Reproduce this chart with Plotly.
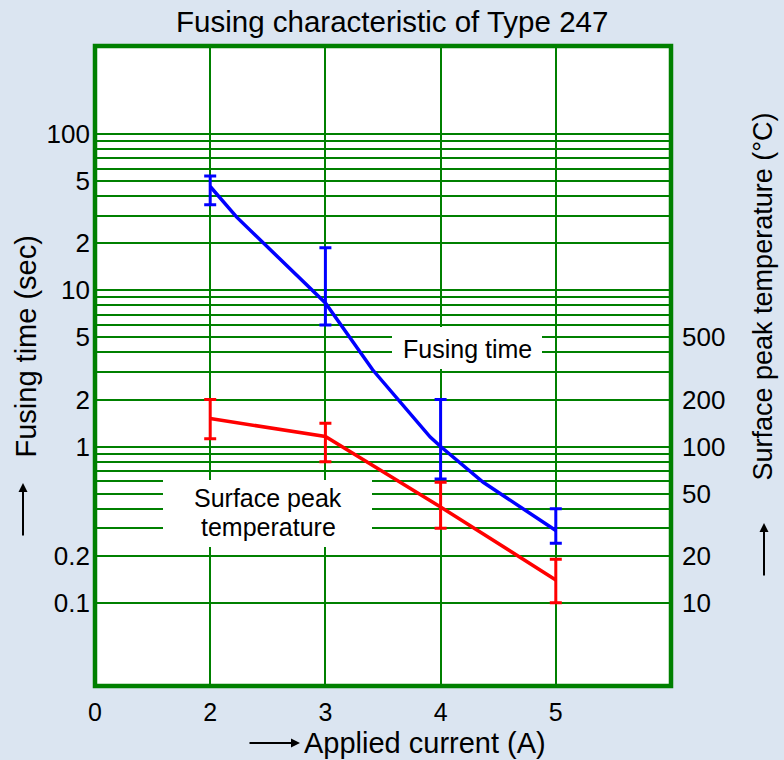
import plotly.graph_objects as go

# ---------------- data ----------------
current_x = [2, 3, 4, 5]                       # applied current (A) positions
x_tick_vals = [1, 2, 3, 4, 5]
x_tick_text = ["0", "2", "3", "4", "5"]

# Fusing time (sec) line (with its bends)
fuse_line_x = [2, 2.23, 3, 3.41, 3.91, 4, 4.37, 5]
fuse_line_y = [46.2, 29.4, 8.3, 3.1, 1.15, 1.0, 0.59, 0.29]
# Fusing time error bars
fuse_mid = [46.2, 8.3, 1.0, 0.29]
fuse_hi = [54.0, 18.7, 2.0, 0.40]
fuse_lo = [35.3, 6.0, 0.62, 0.24]

# Surface peak temperature (deg C)
temp_mid = [151, 116, 41, 14]
temp_hi = [200, 141, 59, 19]
temp_lo = [112, 80, 30, 10]

# Left axis ticks / grid
y_tick_vals = [0.1, 0.2, 0.3, 0.4, 0.5, 0.6, 0.7, 0.8, 0.9,
               1, 2, 3, 4, 5, 6, 7, 8, 9,
               10, 20, 30, 40, 50, 60, 70, 80, 90, 100]
y_tick_text = ["0.1", "0.2", "", "", "", "", "", "", "",
               "1", "2", "", "", "5", "", "", "", "",
               "10", "2", "", "", "5", "", "", "", "", "100"]
# Right axis ticks
y2_tick_vals = [10, 20, 50, 100, 200, 500]
y2_tick_text = ["10", "20", "50", "100", "200", "500"]

GREEN = "#008000"
BG = "#dbe5f1"
FONT = "Liberation Sans, Arial, sans-serif"

fig = go.Figure()

fig.add_trace(go.Scatter(
    x=fuse_line_x, y=fuse_line_y, mode="lines",
    line=dict(color="#0000ff", width=3.5), showlegend=False, yaxis="y"))
fig.add_trace(go.Scatter(
    x=current_x, y=fuse_mid, mode="markers", marker=dict(size=1, color="rgba(0,0,0,0)"),
    error_y=dict(type="data", symmetric=False,
                 array=[h - m for h, m in zip(fuse_hi, fuse_mid)],
                 arrayminus=[m - l for m, l in zip(fuse_mid, fuse_lo)],
                 color="#0000ff", thickness=3, width=6),
    showlegend=False, yaxis="y"))
fig.add_trace(go.Scatter(
    x=current_x, y=temp_mid, mode="lines",
    line=dict(color="#ff0000", width=3.5),
    error_y=dict(type="data", symmetric=False,
                 array=[h - m for h, m in zip(temp_hi, temp_mid)],
                 arrayminus=[m - l for m, l in zip(temp_mid, temp_lo)],
                 color="#ff0000", thickness=3, width=6),
    showlegend=False, yaxis="y2"))

L, R, T, B = 95, 113, 46, 74
PW, PH = 784 - L - R, 760 - T - B


def px(xp):
    return (xp - L) / PW


def py(yp):
    return 1 - (yp - T) / PH


y_lo, y_hi = -1.533, 2.564

fig.update_layout(
    width=784, height=760,
    margin=dict(l=L, r=R, t=T, b=B, pad=0),
    paper_bgcolor=BG, plot_bgcolor="white",
    font=dict(family=FONT, color="black"),
    xaxis=dict(range=[1, 6], tickvals=x_tick_vals, ticktext=x_tick_text,
               showgrid=True, gridcolor=GREEN, gridwidth=1.8, zeroline=False,
               showline=False, ticks="", tickfont=dict(size=25, family=FONT),
               ticklabelstandoff=9, fixedrange=True),
    yaxis=dict(type="log", range=[y_lo, y_hi], tickvals=y_tick_vals, ticktext=y_tick_text,
               showgrid=True, gridcolor=GREEN, gridwidth=1.8, zeroline=False,
               showline=False, ticks="", tickfont=dict(size=26, family=FONT),
               ticklabelstandoff=4),
    yaxis2=dict(type="log", range=[y_lo + 2, y_hi + 2], overlaying="y", side="right",
                tickvals=y2_tick_vals, ticktext=y2_tick_text, showgrid=False,
                zeroline=False, showline=False, ticks="",
                tickfont=dict(size=26, family=FONT), ticklabelstandoff=10),
)

shapes = [
    dict(type="rect", xref="paper", yref="paper", x0=px(392), x1=px(542), y0=py(369), y1=py(327),
         fillcolor="white", line=dict(width=0), layer="above"),
    dict(type="rect", xref="paper", yref="paper", x0=px(163), x1=px(372), y0=py(547), y1=py(480),
         fillcolor="white", line=dict(width=0), layer="above"),
    dict(type="rect", xref="paper", yref="paper", x0=0, x1=1, y0=0, y1=1,
         line=dict(color=GREEN, width=4.5), layer="above"),
]
fig.update_layout(shapes=shapes)

ann = [
    dict(text="Fusing characteristic of Type 247", x=px(392), y=py(21.5), font=dict(size=29.5)),
    dict(text="Fusing time", x=px(467), y=py(348.6), font=dict(size=25)),
    dict(text="Surface peak", x=px(268), y=py(498), font=dict(size=25)),
    dict(text="temperature", x=px(268), y=py(527), font=dict(size=25)),
    dict(text="Fusing time (sec)", x=px(25), y=py(346.5), textangle=-90, font=dict(size=29)),
    dict(text="Surface peak temperature (°C)", x=px(762), y=py(296.5), textangle=-90,
         font=dict(size=27)),
    dict(text="Applied current (A)", x=px(424.5), y=py(743), font=dict(size=29)),
]
annotations = []
for a in ann:
    a.update(xref="paper", yref="paper", xanchor="center", yanchor="middle",
             showarrow=False)
    a["font"].update(family=FONT, color="black")
    annotations.append(a)

for tip, off in [((23, 483), (0, 54)), ((764, 523), (0, 54)), ((300, 743), (-52, 0))]:
    annotations.append(dict(text="", xref="paper", yref="paper", x=px(tip[0]), y=py(tip[1]),
                            showarrow=True, ax=off[0], ay=off[1], axref="pixel", ayref="pixel",
                            arrowhead=2, arrowsize=0.9, arrowwidth=2, arrowcolor="black",
                            standoff=0))
fig.update_layout(annotations=annotations)

fig.write_html(
    "out.html",
    config={"displayModeBar": False},
    post_script="document.body.style.margin='0px';"
                "document.body.style.background='" + BG + "';"
                "document.body.style.overflow='hidden';",
)
